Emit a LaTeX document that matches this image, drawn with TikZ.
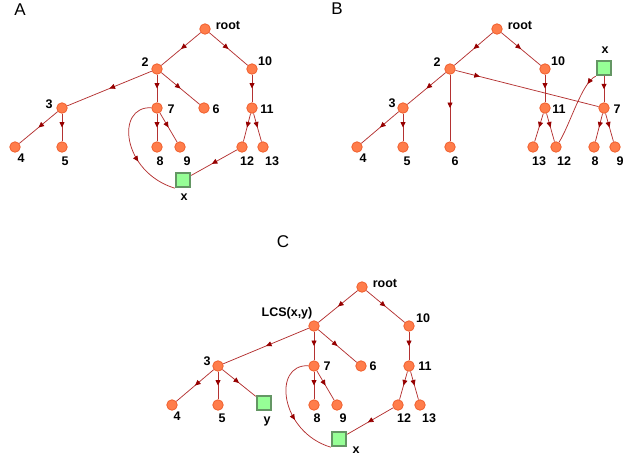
\documentclass[tikz,border=0pt]{standalone}
\usepackage{fontspec}
\setmainfont{Liberation Sans}
\usetikzlibrary{arrows.meta,decorations.markings}
\definecolor{nodefill}{RGB}{255,125,75}
\definecolor{nodeborder}{RGB}{240,95,45}
\definecolor{sqfill}{RGB}{150,255,150}
\definecolor{sqborder}{RGB}{100,150,100}
\definecolor{edgecol}{RGB}{180,50,50}
\definecolor{tipcol}{RGB}{150,0,0}
\tikzset{
  dot/.style={circle,fill=nodefill,draw=nodeborder,line width=0.8pt,minimum size=10.5pt,inner sep=0pt},
  sq/.style={rectangle,fill=sqfill,draw=sqborder,line width=2.4pt,minimum size=14pt,inner sep=0pt},
  lbl/.style={font=\bfseries\fontsize{12.5}{12.5}\selectfont,inner sep=0pt},
  panel/.style={font=\fontsize{17}{17}\selectfont,inner sep=0pt},
  edge/.style={draw=edgecol,line width=0.75pt},
  midarrow/.style={edge,postaction={decorate},decoration={markings,
     mark=at position #1 with {\arrow[tipcol]{Triangle[length=5.5pt,width=5pt]}}}},
  midarrow/.default=0.5
}
\begin{document}
\begin{tikzpicture}[x=1pt,y=-1pt]
\useasboundingbox (0,0) rectangle (640,469);
% ================= Panel A =================
\node[panel] (pA) at (20,10) {A};
\node[dot] (a-root) at (205,29) {};
\node[dot] (a2) at (157,69) {};
\node[dot] (a10) at (252,69) {};
\node[dot] (a3) at (62,108) {};
\node[dot] (a7) at (157,108) {};
\node[dot] (a6) at (204,108) {};
\node[dot] (a11) at (252,108) {};
\node[dot] (a4) at (15,147) {};
\node[dot] (a5) at (62,147) {};
\node[dot] (a8) at (157,147) {};
\node[dot] (a9) at (180,147) {};
\node[dot] (a12) at (242,147) {};
\node[dot] (a13) at (263,147) {};
\node[sq] (ax) at (183,180) {};
\draw[midarrow] (a-root) -- (a2);
\draw[midarrow] (a-root) -- (a10);
\draw[midarrow] (a2) -- (a3);
\draw[midarrow] (a2) -- (a7);
\draw[midarrow] (a2) -- (a6);
\draw[midarrow] (a10) -- (a11);
\draw[midarrow] (a3) -- (a4);
\draw[midarrow] (a3) -- (a5);
\draw[midarrow] (a7) -- (a8);
\draw[midarrow] (a7) -- (a9);
\draw[midarrow] (a11) -- (a12);
\draw[midarrow] (a11) -- (a13);
\draw[midarrow=0.55] (a12) -- (ax);
\draw[midarrow=0.6] (a7) .. controls (115,106) and (122,172) .. (ax.south west);
\node[lbl] (la-root) at (228,25) {root};
\node[lbl] (la2) at (145,62) {2};
\node[lbl] (la10) at (265,61) {10};
\node[lbl] (la3) at (49,104) {3};
\node[lbl] (la7) at (171,109) {7};
\node[lbl] (la6) at (216,109) {6};
\node[lbl] (la11) at (267,109) {11};
\node[lbl] (la4) at (21,158) {4};
\node[lbl] (la5) at (65,161) {5};
\node[lbl] (la8) at (160,161) {8};
\node[lbl] (la9) at (187,161) {9};
\node[lbl] (la12) at (247,161) {12};
\node[lbl] (la13) at (272,161) {13};
\node[lbl] (lax) at (184,197) {x};
% ================= Panel B =================
\node[panel] (pB) at (337,9) {B};
\node[dot] (b-root) at (497,29) {};
\node[dot] (b2) at (450,69) {};
\node[dot] (b10) at (545,69) {};
\node[sq] (bx) at (604,68) {};
\node[dot] (b3) at (403,108) {};
\node[dot] (b11) at (545,108) {};
\node[dot] (b7) at (604,108) {};
\node[dot] (b4) at (357,147) {};
\node[dot] (b5) at (403,147) {};
\node[dot] (b6) at (450,147) {};
\node[dot] (b13) at (533,147) {};
\node[dot] (b12) at (556,147) {};
\node[dot] (b8) at (594,147) {};
\node[dot] (b9) at (615,147) {};
\draw[midarrow] (b-root) -- (b2);
\draw[midarrow] (b-root) -- (b10);
\draw[midarrow] (b2) -- (b3);
\draw[midarrow] (b2) -- (b6);
\draw[midarrow=0.17] (b2) -- (b7);
\draw[midarrow] (b10) -- (b11);
\draw[midarrow] (b3) -- (b4);
\draw[midarrow] (b3) -- (b5);
\draw[midarrow] (b11) -- (b13);
\draw[midarrow] (b11) -- (b12);
\draw[midarrow] (b7) -- (b8);
\draw[midarrow] (b7) -- (b9);
\draw[midarrow] (bx) -- (b7);
\draw[midarrow=0.15] (bx.south west) .. controls (582,82) and (570,125) .. (b12);
\node[lbl] (lb-root) at (520,25) {root};
\node[lbl] (lb2) at (437,62) {2};
\node[lbl] (lb10) at (558,61) {10};
\node[lbl] (lbx) at (605,50) {x};
\node[lbl] (lb3) at (392,103) {3};
\node[lbl] (lb11) at (559,109) {11};
\node[lbl] (lb7) at (617,109) {7};
\node[lbl] (lb4) at (363,158) {4};
\node[lbl] (lb5) at (407,161) {5};
\node[lbl] (lb6) at (455,161) {6};
\node[lbl] (lb13) at (539,161) {13};
\node[lbl] (lb12) at (564,161) {12};
\node[lbl] (lb8) at (595,161) {8};
\node[lbl] (lb9) at (620,161) {9};
% ================= Panel C =================
\node[panel] (pC) at (283,242) {C};
\node[dot] (c-root) at (362,287) {};
\node[dot] (clcs) at (314,326) {};
\node[dot] (c10) at (409,326) {};
\node[dot] (c3) at (218,366) {};
\node[dot] (c7) at (314,366) {};
\node[dot] (c6) at (361,366) {};
\node[dot] (c11) at (409,366) {};
\node[dot] (c4) at (172,405) {};
\node[dot] (c5) at (218,405) {};
\node[sq] (cy) at (264,403) {};
\node[dot] (c8) at (314,405) {};
\node[dot] (c9) at (337,405) {};
\node[dot] (c12) at (398,405) {};
\node[dot] (c13) at (420,405) {};
\node[sq] (cx) at (339,439) {};
\draw[midarrow] (c-root) -- (clcs);
\draw[midarrow] (c-root) -- (c10);
\draw[midarrow] (clcs) -- (c3);
\draw[midarrow] (clcs) -- (c7);
\draw[midarrow] (clcs) -- (c6);
\draw[midarrow] (c10) -- (c11);
\draw[midarrow] (c3) -- (c4);
\draw[midarrow] (c3) -- (c5);
\draw[midarrow] (c3) -- (cy);
\draw[midarrow] (c7) -- (c8);
\draw[midarrow] (c7) -- (c9);
\draw[midarrow] (c11) -- (c12);
\draw[midarrow] (c11) -- (c13);
\draw[midarrow=0.55] (c12) -- (cx);
\draw[midarrow=0.6] (c7) .. controls (272,364) and (280,432) .. (cx.south west);
\node[lbl] (lc-root) at (385,283) {root};
\node[lbl] (lclcs) at (287,313) {LCS(x,y)};
\node[lbl] (lc10) at (423,318) {10};
\node[lbl] (lc3) at (207,361) {3};
\node[lbl] (lc7) at (327,366) {7};
\node[lbl] (lc6) at (373,366) {6};
\node[lbl] (lc11) at (425,366) {11};
\node[lbl] (lc4) at (177,416) {4};
\node[lbl] (lc5) at (222,418) {5};
\node[lbl] (lcy) at (267,421) {y};
\node[lbl] (lc8) at (317,418) {8};
\node[lbl] (lc9) at (343,418) {9};
\node[lbl] (lc12) at (404,418) {12};
\node[lbl] (lc13) at (429,418) {13};
\node[lbl] (lcx) at (356,450) {x};
\end{tikzpicture}
\end{document}
